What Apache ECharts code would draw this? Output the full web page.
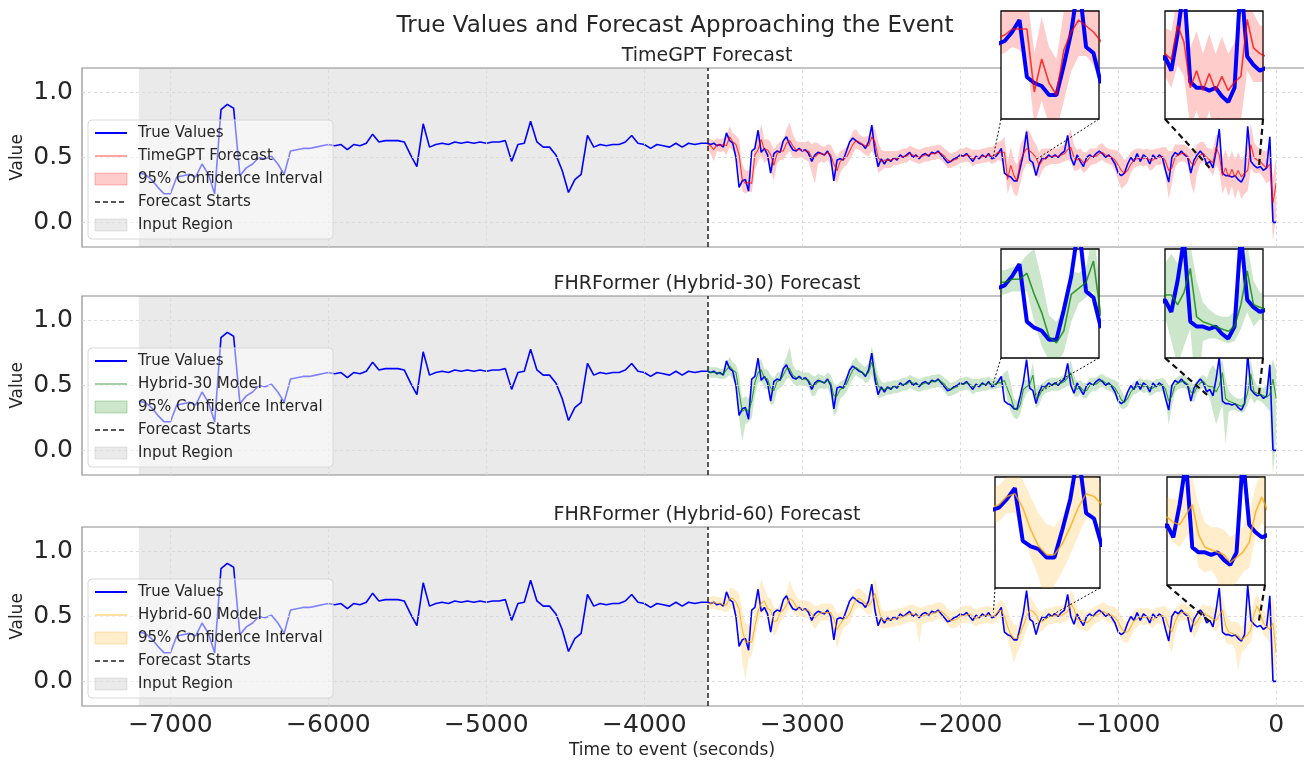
<!DOCTYPE html>
<html>
<head>
<meta charset="utf-8">
<title>True Values and Forecast Approaching the Event</title>
<script src="https://cdn.jsdelivr.net/npm/echarts@6/dist/echarts.min.js"></script>
<style>
  html, body { margin: 0; padding: 0; background: #fff; overflow: hidden; }
  #chart { width: 1340px; height: 763px; }
</style>
</head>
<body>
<div id="chart"></div>
<script>
// sampling of the two parts of the record (seconds before the event)
const inputStart = -7200, inputStep = 40;
const forecastStart = -3600, forecastStep = 20;

// true signal inside the input window (-7200 .. -3640, every 40 s)
const trueInput = [
  0.38,0.37,0.33,0.27,0.22,0.22,0.35,0.36,0.37,0.35,
  0.45,0.37,0.22,0.87,0.91,0.88,0.36,0.42,0.45,0.50,
  0.49,0.51,0.45,0.37,0.55,0.56,0.57,0.57,0.58,0.59,
  0.60,0.59,0.60,0.56,0.60,0.59,0.61,0.68,0.62,0.63,
  0.63,0.63,0.62,0.52,0.43,0.76,0.58,0.60,0.61,0.60,
  0.62,0.61,0.62,0.61,0.62,0.61,0.62,0.62,0.63,0.47,
  0.60,0.61,0.78,0.62,0.58,0.58,0.52,0.40,0.23,0.33,
  0.37,0.67,0.58,0.60,0.59,0.60,0.60,0.62,0.67,0.61,
  0.60,0.57,0.60,0.59,0.58,0.61,0.58,0.61,0.60,0.61
];

// true signal over the forecast horizon (-3600 .. 0, every 20 s)
const trueForecast = [
  0.61,0.60,0.61,0.59,0.60,0.58,0.69,0.63,0.61,0.50,
  0.27,0.32,0.33,0.24,0.55,0.57,0.71,0.54,0.57,0.52,
  0.38,0.53,0.55,0.54,0.63,0.66,0.60,0.56,0.55,0.57,
  0.55,0.56,0.53,0.47,0.52,0.54,0.53,0.52,0.55,0.50,
  0.32,0.48,0.49,0.48,0.55,0.62,0.65,0.63,0.61,0.60,
  0.57,0.62,0.75,0.55,0.43,0.49,0.45,0.49,0.47,0.50,
  0.48,0.52,0.50,0.52,0.54,0.50,0.52,0.49,0.52,0.53,
  0.51,0.54,0.53,0.55,0.52,0.49,0.46,0.47,0.49,0.50,
  0.52,0.51,0.53,0.50,0.47,0.51,0.49,0.52,0.50,0.53,
  0.49,0.50,0.53,0.57,0.38,0.36,0.35,0.32,0.32,0.42,
  0.53,0.70,0.48,0.46,0.36,0.45,0.50,0.49,0.52,0.50,
  0.52,0.50,0.53,0.55,0.67,0.50,0.44,0.52,0.47,0.43,
  0.50,0.52,0.50,0.53,0.55,0.53,0.50,0.52,0.49,0.45,
  0.38,0.36,0.38,0.45,0.50,0.47,0.53,0.47,0.52,0.50,
  0.45,0.52,0.49,0.52,0.50,0.40,0.31,0.50,0.54,0.52,
  0.55,0.52,0.50,0.38,0.48,0.52,0.55,0.52,0.45,0.47,
  0.42,0.55,0.72,0.38,0.36,0.36,0.35,0.36,0.33,0.31,
  0.36,0.74,0.47,0.44,0.42,0.43,0.40,0.42,0.66,0.00,
  0.00
];

// TimeGPT forecast and its 95% interval
const timegptMean = [
  0.60,0.59,0.56,0.60,0.59,0.60,0.59,0.66,0.62,0.60,
  0.52,0.33,0.30,0.31,0.30,0.52,0.56,0.64,0.56,0.56,
  0.52,0.44,0.53,0.55,0.55,0.61,0.63,0.59,0.56,0.56,
  0.56,0.55,0.55,0.50,0.50,0.53,0.53,0.52,0.54,0.52,
  0.45,0.40,0.47,0.49,0.50,0.55,0.60,0.63,0.62,0.60,
  0.59,0.59,0.66,0.62,0.50,0.47,0.48,0.48,0.48,0.49,
  0.49,0.50,0.51,0.51,0.53,0.52,0.51,0.50,0.51,0.52,
  0.52,0.53,0.53,0.54,0.53,0.51,0.48,0.47,0.48,0.49,
  0.51,0.51,0.52,0.51,0.49,0.50,0.50,0.51,0.51,0.52,
  0.51,0.52,0.54,0.54,0.54,0.33,0.44,0.36,0.32,0.47,
  0.53,0.57,0.55,0.53,0.50,0.44,0.48,0.50,0.50,0.51,
  0.51,0.51,0.52,0.53,0.56,0.58,0.50,0.48,0.49,0.46,
  0.47,0.50,0.51,0.51,0.53,0.54,0.52,0.51,0.50,0.48,
  0.44,0.40,0.38,0.40,0.45,0.48,0.49,0.50,0.49,0.50,
  0.48,0.48,0.50,0.50,0.51,0.47,0.40,0.42,0.50,0.52,
  0.53,0.53,0.51,0.46,0.44,0.49,0.52,0.53,0.50,0.48,
  0.46,0.58,0.52,0.36,0.42,0.35,0.41,0.35,0.40,0.35,
  0.38,0.40,0.60,0.50,0.48,0.47,0.44,0.42,0.45,0.15,
  0.30
];
const timegptLow = [
  0.55,0.53,0.47,0.55,0.54,0.55,0.52,0.58,0.55,0.52,
  0.38,0.24,0.22,0.24,0.23,0.40,0.47,0.52,0.46,0.48,
  0.40,0.32,0.45,0.48,0.48,0.52,0.55,0.50,0.49,0.50,
  0.50,0.48,0.47,0.38,0.30,0.45,0.47,0.46,0.48,0.44,
  0.35,0.30,0.38,0.42,0.44,0.48,0.53,0.57,0.56,0.54,
  0.52,0.51,0.55,0.52,0.38,0.40,0.42,0.42,0.42,0.44,
  0.44,0.45,0.46,0.46,0.48,0.47,0.46,0.45,0.46,0.47,
  0.47,0.48,0.48,0.49,0.48,0.45,0.42,0.42,0.43,0.44,
  0.46,0.46,0.47,0.46,0.43,0.45,0.45,0.46,0.46,0.47,
  0.45,0.46,0.48,0.47,0.44,0.22,0.30,0.22,0.20,0.30,
  0.40,0.45,0.45,0.42,0.36,0.34,0.40,0.43,0.44,0.45,
  0.45,0.45,0.46,0.47,0.48,0.47,0.40,0.40,0.42,0.38,
  0.40,0.43,0.45,0.45,0.47,0.48,0.46,0.45,0.44,0.40,
  0.32,0.26,0.28,0.31,0.38,0.42,0.43,0.44,0.43,0.44,
  0.40,0.41,0.44,0.44,0.45,0.36,0.18,0.30,0.42,0.46,
  0.47,0.47,0.44,0.30,0.22,0.38,0.45,0.47,0.43,0.40,
  0.36,0.44,0.40,0.22,0.28,0.20,0.28,0.18,0.26,0.18,
  0.22,0.24,0.42,0.38,0.38,0.38,0.34,0.30,0.32,-0.15,
  0.05
];
const timegptHigh = [
  0.65,0.64,0.63,0.65,0.64,0.65,0.66,0.74,0.69,0.67,
  0.64,0.45,0.40,0.40,0.40,0.62,0.65,0.76,0.64,0.64,
  0.62,0.56,0.60,0.62,0.63,0.72,0.77,0.68,0.63,0.62,
  0.62,0.62,0.63,0.60,0.62,0.61,0.59,0.58,0.60,0.60,
  0.55,0.50,0.55,0.56,0.58,0.64,0.70,0.72,0.68,0.66,
  0.66,0.67,0.76,0.72,0.62,0.56,0.55,0.55,0.55,0.55,
  0.55,0.56,0.57,0.57,0.59,0.58,0.57,0.56,0.57,0.58,
  0.58,0.59,0.59,0.60,0.59,0.57,0.55,0.53,0.54,0.55,
  0.57,0.57,0.58,0.57,0.56,0.56,0.56,0.57,0.57,0.58,
  0.58,0.60,0.62,0.63,0.66,0.46,0.58,0.48,0.44,0.60,
  0.64,0.72,0.70,0.64,0.60,0.54,0.57,0.57,0.57,0.57,
  0.57,0.57,0.59,0.60,0.66,0.72,0.60,0.56,0.57,0.54,
  0.54,0.57,0.57,0.57,0.60,0.61,0.58,0.57,0.56,0.56,
  0.55,0.52,0.48,0.50,0.54,0.56,0.57,0.57,0.56,0.57,
  0.56,0.56,0.57,0.57,0.58,0.58,0.55,0.55,0.60,0.60,
  0.60,0.60,0.58,0.56,0.55,0.60,0.62,0.62,0.58,0.57,
  0.56,0.68,0.66,0.50,0.56,0.48,0.55,0.48,0.54,0.48,
  0.52,0.58,0.76,0.62,0.58,0.57,0.55,0.55,0.60,0.35,
  0.50
];

// FHRFormer Hybrid-30 forecast and its 95% interval
const hybrid30Mean = [
  0.61,0.60,0.60,0.60,0.59,0.59,0.62,0.65,0.62,0.60,
  0.45,0.30,0.32,0.30,0.38,0.52,0.60,0.62,0.56,0.55,
  0.48,0.46,0.53,0.54,0.58,0.63,0.63,0.58,0.56,0.56,
  0.55,0.55,0.54,0.50,0.50,0.53,0.53,0.52,0.54,0.52,
  0.42,0.42,0.47,0.48,0.51,0.57,0.62,0.64,0.62,0.60,
  0.58,0.60,0.68,0.60,0.50,0.47,0.47,0.48,0.48,0.49,
  0.49,0.50,0.51,0.51,0.53,0.52,0.51,0.50,0.51,0.52,
  0.52,0.53,0.53,0.54,0.53,0.51,0.48,0.47,0.48,0.49,
  0.51,0.51,0.52,0.51,0.49,0.50,0.50,0.51,0.51,0.52,
  0.51,0.51,0.52,0.52,0.54,0.47,0.41,0.33,0.31,0.35,
  0.47,0.49,0.51,0.58,0.40,0.42,0.47,0.49,0.50,0.51,
  0.51,0.51,0.52,0.53,0.56,0.60,0.50,0.47,0.49,0.46,
  0.46,0.50,0.51,0.51,0.53,0.54,0.52,0.51,0.50,0.48,
  0.44,0.39,0.37,0.40,0.45,0.48,0.49,0.51,0.49,0.50,
  0.48,0.48,0.50,0.50,0.51,0.47,0.38,0.42,0.50,0.52,
  0.53,0.53,0.51,0.45,0.44,0.49,0.52,0.53,0.50,0.49,
  0.49,0.45,0.50,0.60,0.40,0.38,0.37,0.36,0.35,0.34,
  0.36,0.45,0.59,0.45,0.44,0.43,0.42,0.41,0.43,0.55,
  0.40
];
const hybrid30Low = [
  0.57,0.56,0.56,0.56,0.55,0.55,0.56,0.58,0.55,0.50,
  0.25,0.07,0.20,0.22,0.25,0.42,0.52,0.53,0.48,0.47,
  0.35,0.36,0.46,0.48,0.50,0.55,0.56,0.52,0.50,0.50,
  0.50,0.50,0.48,0.42,0.42,0.47,0.48,0.47,0.48,0.42,
  0.26,0.30,0.40,0.42,0.45,0.50,0.55,0.58,0.56,0.55,
  0.52,0.53,0.58,0.50,0.40,0.41,0.42,0.43,0.43,0.44,
  0.44,0.45,0.46,0.46,0.48,0.47,0.46,0.45,0.46,0.47,
  0.47,0.48,0.48,0.49,0.48,0.45,0.42,0.42,0.43,0.44,
  0.46,0.46,0.47,0.46,0.43,0.45,0.45,0.46,0.46,0.47,
  0.47,0.47,0.48,0.48,0.48,0.38,0.30,0.25,0.24,0.28,
  0.38,0.44,0.46,0.48,0.32,0.35,0.42,0.44,0.45,0.46,
  0.46,0.46,0.47,0.48,0.50,0.50,0.42,0.41,0.44,0.40,
  0.40,0.44,0.46,0.46,0.48,0.49,0.47,0.46,0.45,0.42,
  0.36,0.32,0.32,0.34,0.40,0.43,0.44,0.46,0.44,0.45,
  0.42,0.43,0.45,0.45,0.46,0.40,0.20,0.34,0.45,0.47,
  0.48,0.48,0.46,0.38,0.37,0.44,0.47,0.48,0.45,0.40,
  0.30,0.20,0.28,0.35,0.05,0.30,0.31,0.31,0.30,0.29,
  0.30,0.35,0.42,0.36,0.39,0.38,0.36,0.33,0.30,-0.18,
  0.10
];
const hybrid30High = [
  0.66,0.64,0.64,0.64,0.63,0.63,0.68,0.72,0.68,0.66,
  0.58,0.40,0.42,0.40,0.50,0.60,0.70,0.70,0.63,0.62,
  0.58,0.55,0.60,0.60,0.66,0.72,0.80,0.66,0.62,0.62,
  0.60,0.60,0.60,0.58,0.57,0.59,0.58,0.57,0.60,0.58,
  0.52,0.50,0.53,0.54,0.57,0.64,0.69,0.72,0.68,0.66,
  0.64,0.68,0.80,0.70,0.58,0.53,0.52,0.53,0.53,0.54,
  0.54,0.55,0.56,0.56,0.58,0.57,0.56,0.55,0.56,0.57,
  0.57,0.58,0.58,0.59,0.58,0.56,0.54,0.52,0.53,0.54,
  0.56,0.56,0.57,0.56,0.55,0.55,0.55,0.56,0.56,0.57,
  0.55,0.55,0.56,0.57,0.60,0.62,0.52,0.40,0.38,0.42,
  0.55,0.54,0.56,0.68,0.48,0.50,0.52,0.54,0.55,0.56,
  0.56,0.56,0.57,0.58,0.62,0.70,0.58,0.53,0.54,0.52,
  0.52,0.56,0.56,0.56,0.58,0.59,0.57,0.56,0.55,0.54,
  0.52,0.46,0.42,0.46,0.50,0.53,0.54,0.56,0.54,0.55,
  0.54,0.53,0.55,0.55,0.56,0.54,0.50,0.50,0.55,0.57,
  0.58,0.58,0.56,0.52,0.51,0.54,0.57,0.58,0.55,0.62,
  0.66,0.62,0.65,0.70,0.55,0.46,0.43,0.41,0.40,0.40,
  0.42,0.55,0.70,0.55,0.50,0.49,0.48,0.50,0.62,0.70,
  0.62
];

// FHRFormer Hybrid-60 forecast and its 95% interval
const hybrid60Mean = [
  0.60,0.60,0.61,0.60,0.60,0.59,0.59,0.64,0.64,0.61,
  0.56,0.40,0.30,0.31,0.30,0.42,0.54,0.60,0.62,0.56,
  0.55,0.46,0.47,0.53,0.55,0.59,0.64,0.62,0.58,0.56,
  0.56,0.55,0.55,0.52,0.49,0.51,0.53,0.53,0.53,0.53,
  0.48,0.40,0.44,0.48,0.49,0.52,0.58,0.63,0.64,0.62,
  0.60,0.58,0.62,0.68,0.58,0.48,0.47,0.47,0.48,0.48,
  0.49,0.49,0.50,0.51,0.52,0.52,0.51,0.50,0.50,0.51,
  0.52,0.52,0.53,0.54,0.54,0.52,0.49,0.47,0.47,0.48,
  0.50,0.51,0.51,0.52,0.50,0.48,0.50,0.50,0.51,0.51,
  0.50,0.51,0.54,0.55,0.50,0.42,0.36,0.33,0.33,0.37,
  0.43,0.50,0.55,0.54,0.51,0.46,0.46,0.48,0.50,0.50,
  0.51,0.51,0.51,0.52,0.54,0.60,0.56,0.48,0.47,0.47,
  0.45,0.47,0.50,0.51,0.52,0.54,0.53,0.51,0.51,0.49,
  0.46,0.41,0.38,0.38,0.42,0.47,0.48,0.50,0.49,0.50,
  0.49,0.47,0.50,0.50,0.51,0.49,0.42,0.38,0.46,0.51,
  0.53,0.53,0.52,0.48,0.43,0.46,0.50,0.53,0.51,0.50,
  0.48,0.47,0.51,0.55,0.43,0.38,0.37,0.36,0.35,0.32,
  0.34,0.36,0.40,0.52,0.58,0.52,0.45,0.42,0.40,0.45,
  0.22
];
const hybrid60Low = [
  0.56,0.56,0.56,0.55,0.55,0.54,0.53,0.56,0.56,0.52,
  0.42,0.15,0.01,0.18,0.20,0.32,0.45,0.52,0.54,0.48,
  0.45,0.35,0.38,0.46,0.48,0.52,0.56,0.54,0.51,0.50,
  0.50,0.49,0.48,0.44,0.40,0.44,0.47,0.47,0.47,0.46,
  0.38,0.25,0.34,0.41,0.43,0.45,0.51,0.56,0.57,0.56,
  0.53,0.51,0.53,0.58,0.45,0.41,0.41,0.41,0.42,0.42,
  0.43,0.43,0.44,0.45,0.46,0.46,0.45,0.29,0.44,0.45,
  0.46,0.46,0.47,0.48,0.48,0.46,0.43,0.41,0.41,0.42,
  0.44,0.45,0.45,0.46,0.44,0.42,0.44,0.44,0.45,0.45,
  0.44,0.45,0.48,0.48,0.42,0.32,0.25,0.14,0.22,0.27,
  0.33,0.40,0.46,0.47,0.44,0.38,0.39,0.42,0.44,0.44,
  0.45,0.45,0.45,0.46,0.47,0.51,0.47,0.41,0.40,0.40,
  0.38,0.40,0.43,0.45,0.46,0.48,0.47,0.45,0.45,0.42,
  0.38,0.32,0.30,0.30,0.34,0.40,0.42,0.44,0.43,0.44,
  0.43,0.41,0.44,0.44,0.45,0.40,0.28,0.22,0.36,0.44,
  0.47,0.47,0.46,0.40,0.33,0.38,0.44,0.47,0.45,0.43,
  0.40,0.38,0.42,0.45,0.30,0.28,0.29,0.25,0.08,0.22,
  0.24,0.28,0.30,0.42,0.48,0.44,0.36,0.33,0.30,0.00,
  0.12
];
const hybrid60High = [
  0.65,0.65,0.66,0.65,0.65,0.64,0.65,0.72,0.72,0.70,
  0.68,0.55,0.45,0.44,0.42,0.55,0.66,0.79,0.72,0.65,
  0.64,0.57,0.56,0.60,0.63,0.68,0.78,0.71,0.66,0.63,
  0.63,0.62,0.62,0.60,0.58,0.58,0.60,0.60,0.60,0.60,
  0.58,0.52,0.53,0.55,0.56,0.59,0.66,0.71,0.72,0.70,
  0.68,0.66,0.72,0.79,0.70,0.56,0.54,0.54,0.55,0.55,
  0.56,0.56,0.57,0.58,0.59,0.59,0.58,0.57,0.57,0.58,
  0.59,0.59,0.60,0.61,0.61,0.59,0.56,0.54,0.54,0.55,
  0.57,0.58,0.58,0.59,0.57,0.55,0.57,0.57,0.58,0.58,
  0.57,0.58,0.61,0.63,0.60,0.54,0.48,0.44,0.43,0.47,
  0.54,0.62,0.66,0.62,0.58,0.54,0.54,0.55,0.57,0.57,
  0.58,0.58,0.58,0.59,0.62,0.70,0.66,0.56,0.55,0.55,
  0.53,0.55,0.57,0.58,0.59,0.61,0.60,0.58,0.58,0.57,
  0.55,0.50,0.47,0.46,0.50,0.55,0.56,0.57,0.56,0.57,
  0.56,0.54,0.57,0.57,0.58,0.58,0.55,0.52,0.56,0.58,
  0.60,0.60,0.59,0.56,0.52,0.54,0.57,0.60,0.58,0.58,
  0.57,0.57,0.62,0.66,0.55,0.48,0.46,0.46,0.45,0.42,
  0.44,0.46,0.52,0.62,0.68,0.62,0.55,0.52,0.52,0.66,
  0.40
];

const xTicks = [-7000, -6000, -5000, -4000, -3000, -2000, -1000, 0];
const yTicks = [0, 0.5, 1.0];

// zoom windows shown in the insets, and their value ranges per panel
const insetWindows = [[-1790, -1525], [-420, -110]];
const insetRanges = [
  [[0.24, 0.60], [0.25, 0.63]],
  [[0.26, 0.62], [0.23, 0.68]],
  [[0.21, 0.61], [0.23, 0.66]]
];
// value where the connector lines meet the main plot
const connectorLevels = [
  [[0.51, 0.48], [0.42, 0.41]],
  [[0.52, 0.43], [0.41, 0.42]],
  [[0.53, 0.44], [0.46, 0.46]]
];

// layout
const FONT = '"DejaVu Sans", sans-serif';
const INK = '#262626';
const mainLeft = 82, mainWidth = 1251, mainHeight = 179;
const panelTops = [68, 296, 527];
const insetBoxes = [
  [[1001, 11, 98, 108], [1165, 11, 98, 108]],
  [[1001, 249, 98, 109], [1165, 249, 98, 109]],
  [[995, 477, 105, 111], [1167, 477, 98, 108]]
];

const models = [
  { title: 'TimeGPT Forecast', label: 'TimeGPT Forecast', rgb: '255,0,0',
    mean: timegptMean, low: timegptLow, high: timegptHigh },
  { title: 'FHRFormer (Hybrid-30) Forecast', label: 'Hybrid-30 Model', rgb: '0,128,0',
    mean: hybrid30Mean, low: hybrid30Low, high: hybrid30High },
  { title: 'FHRFormer (Hybrid-60) Forecast', label: 'Hybrid-60 Model', rgb: '255,165,0',
    mean: hybrid60Mean, low: hybrid60Low, high: hybrid60High }
];

function pts(start, step, vals) {
  return vals.map((v, i) => [start + step * i, v]);
}
const truePts = pts(inputStart, inputStep, trueInput)
  .concat(pts(forecastStart, forecastStep, trueForecast));

const grid = [], xAxis = [], yAxis = [], series = [], graphic = [];
const mainIdx = [];

function addSeries(gi, m, inset, zlevel) {
  const lowPts = pts(forecastStart, forecastStep, m.low);
  const highPts = pts(forecastStart, forecastStep, m.high);
  const fill = 'rgba(' + m.rgb + ',0.2)';
  // confidence band: one polygon through the upper bound and back along the lower one
  series.push({
    type: 'custom', xAxisIndex: gi, yAxisIndex: gi, clip: true, silent: true,
    z: 2, zlevel: zlevel, animation: false,
    data: lowPts.map((p, i) => [p[0], p[1], highPts[i][1]]),
    encode: { x: 0, y: [1, 2] },
    renderItem: (params, api) => {
      if (params.dataIndex !== 0) return null;
      const upper = highPts.map(p => api.coord(p));
      const lower = lowPts.map(p => api.coord(p)).reverse();
      return { type: 'polygon', shape: { points: upper.concat(lower) },
               style: { fill: fill, stroke: null } };
    }
  });
  const base = { type: 'line', xAxisIndex: gi, yAxisIndex: gi, symbol: 'none',
                 silent: true, zlevel: zlevel, animation: false };
  const trueS = Object.assign({}, base, {
    data: truePts, lineStyle: { color: '#0000ff', width: inset ? 4 : 1.6 }, z: 3
  });
  if (inset) {
    trueS.markLine = { silent: true, symbol: 'none', label: { show: false },
      lineStyle: { color: '#cfcfcf', type: [4, 3], width: 1 },
      data: [{ yAxis: 0.5 }] };
  }
  series.push(trueS);
  series.push(Object.assign({}, base, {
    data: pts(forecastStart, forecastStep, m.mean),
    lineStyle: { color: 'rgba(' + m.rgb + ',0.75)', width: inset ? 1.6 : 1.1 }, z: 4
  }));
}

models.forEach((m, k) => {
  const top = panelTops[k];
  const gi = grid.length;
  mainIdx.push(gi);
  grid.push({ left: mainLeft, top: top, width: mainWidth, height: mainHeight,
              show: true, borderColor: '#8c8c8c', borderWidth: 1.2 });
  xAxis.push({ gridIndex: gi, type: 'value', min: -7560, max: 360,
    axisLine: { show: false }, axisTick: { show: false }, splitLine: { show: false },
    axisLabel: { show: k === 2, customValues: xTicks, margin: 7, fontSize: 25,
      fontFamily: FONT, color: INK,
      formatter: v => String(v).replace('-', '\u2212') } });
  yAxis.push({ gridIndex: gi, type: 'value', min: -0.19, max: 1.19,
    axisLine: { show: false }, axisTick: { show: false }, splitLine: { show: false },
    axisLabel: { customValues: yTicks, margin: 9, fontSize: 25, fontFamily: FONT,
      color: INK, formatter: v => v.toFixed(1) } });

  // grid lines, input region, forecast start
  series.push({ type: 'line', xAxisIndex: gi, yAxisIndex: gi, data: [], z: 1, silent: true,
    markArea: { silent: true, itemStyle: { color: 'rgba(128,128,128,0.17)' },
      data: [[{ xAxis: inputStart }, { xAxis: forecastStart }]] },
    markLine: { silent: true, symbol: 'none', label: { show: false },
      lineStyle: { color: '#d9d9d9', type: [3, 3], width: 0.9 },
      data: xTicks.map(v => ({ xAxis: v }))
        .concat(yTicks.map(v => ({ yAxis: v })))
        .concat([{ xAxis: forecastStart,
                   lineStyle: { color: '#222', type: [5, 3], width: 1.5 } }]) } });
  addSeries(gi, m, false, 0);

  // insets
  insetBoxes[k].forEach((b, w) => {
    const ii = grid.length;
    grid.push({ left: b[0], top: b[1], width: b[2], height: b[3], show: true,
      backgroundColor: '#ffffff', borderColor: '#000', borderWidth: 1.3, zlevel: 1 });
    xAxis.push({ gridIndex: ii, type: 'value', show: false,
      min: insetWindows[w][0], max: insetWindows[w][1] });
    yAxis.push({ gridIndex: ii, type: 'value', show: false,
      min: insetRanges[k][w][0], max: insetRanges[k][w][1] });
    addSeries(ii, m, true, 1);
  });

  // panel texts
  graphic.push({ type: 'text', x: 707, y: top - 12, z: 100,
    style: { text: m.title, font: '19px ' + FONT, fill: INK, align: 'center', verticalAlign: 'middle' } });
  graphic.push({ type: 'text', x: 18, y: top + mainHeight / 2, rotation: Math.PI / 2, z: 100,
    style: { text: 'Value', font: '17px ' + FONT, fill: INK, align: 'center', verticalAlign: 'middle' } });

  // legend
  const ly = top + 65, gap = 23;
  graphic.push({ type: 'rect', z: 100,
    shape: { x: 88, y: ly - 13, width: 245, height: 119, r: 4 },
    style: { fill: 'rgba(255,255,255,0.5)', stroke: '#d8d8d8', lineWidth: 1 } });
  const labels = ['True Values', m.label, '95% Confidence Interval', 'Forecast Starts', 'Input Region'];
  labels.forEach((t, j) => {
    const cy = ly + gap * j;
    if (j === 0) graphic.push({ type: 'line', z: 101, shape: { x1: 95, y1: cy, x2: 127, y2: cy },
      style: { stroke: '#0000ff', lineWidth: 2 } });
    if (j === 1) graphic.push({ type: 'line', z: 101, shape: { x1: 95, y1: cy, x2: 127, y2: cy },
      style: { stroke: 'rgba(' + m.rgb + ',0.6)', lineWidth: 1.2 } });
    if (j === 2) graphic.push({ type: 'rect', z: 101, shape: { x: 95, y: cy - 6, width: 32, height: 12 },
      style: { fill: 'rgba(' + m.rgb + ',0.2)', stroke: 'rgba(' + m.rgb + ',0.25)', lineWidth: 1 } });
    if (j === 3) graphic.push({ type: 'line', z: 101, shape: { x1: 95, y1: cy, x2: 127, y2: cy },
      style: { stroke: '#222', lineWidth: 1.5, lineDash: [5, 3] } });
    if (j === 4) graphic.push({ type: 'rect', z: 101, shape: { x: 95, y: cy - 6, width: 32, height: 12 },
      style: { fill: 'rgba(128,128,128,0.17)', stroke: 'rgba(128,128,128,0.2)', lineWidth: 1 } });
    graphic.push({ type: 'text', x: 138, y: cy, z: 101,
      style: { text: t, font: '15px ' + FONT, fill: INK, align: 'left', verticalAlign: 'middle' } });
  });
});

graphic.push({ type: 'text', x: 675, y: 26, z: 100,
  style: { text: 'True Values and Forecast Approaching the Event', font: '23px ' + FONT,
           fill: INK, align: 'center', verticalAlign: 'middle' } });
graphic.push({ type: 'text', x: 672, y: 751, z: 100,
  style: { text: 'Time to event (seconds)', font: '17px ' + FONT,
           fill: INK, align: 'center', verticalAlign: 'middle' } });

const chart = echarts.init(document.getElementById('chart'));
chart.setOption({
  animation: false,
  backgroundColor: '#ffffff',
  textStyle: { fontFamily: FONT },
  grid: grid, xAxis: xAxis, yAxis: yAxis, series: series, graphic: graphic
});

// connector lines from each inset to the zoomed region
const connectors = [];
mainIdx.forEach((gi, k) => {
  insetBoxes[k].forEach((b, w) => {
    const lv = connectorLevels[k][w];
    const pL = chart.convertToPixel({ xAxisIndex: gi, yAxisIndex: gi }, [insetWindows[w][0], lv[0]]);
    const pR = chart.convertToPixel({ xAxisIndex: gi, yAxisIndex: gi }, [insetWindows[w][1], lv[1]]);
    const st = w === 0 ? { stroke: '#111', lineWidth: 1, lineDash: [2, 2] }
                       : { stroke: '#111', lineWidth: 2.2, lineDash: [6, 4] };
    connectors.push({ type: 'line', z: 90, shape: { x1: b[0], y1: b[1] + b[3], x2: pL[0], y2: pL[1] }, style: st });
    connectors.push({ type: 'line', z: 90, shape: { x1: b[0] + b[2], y1: b[1] + b[3], x2: pR[0], y2: pR[1] }, style: st });
  });
});
chart.setOption({ graphic: graphic.concat(connectors) });
</script>
</body>
</html>
